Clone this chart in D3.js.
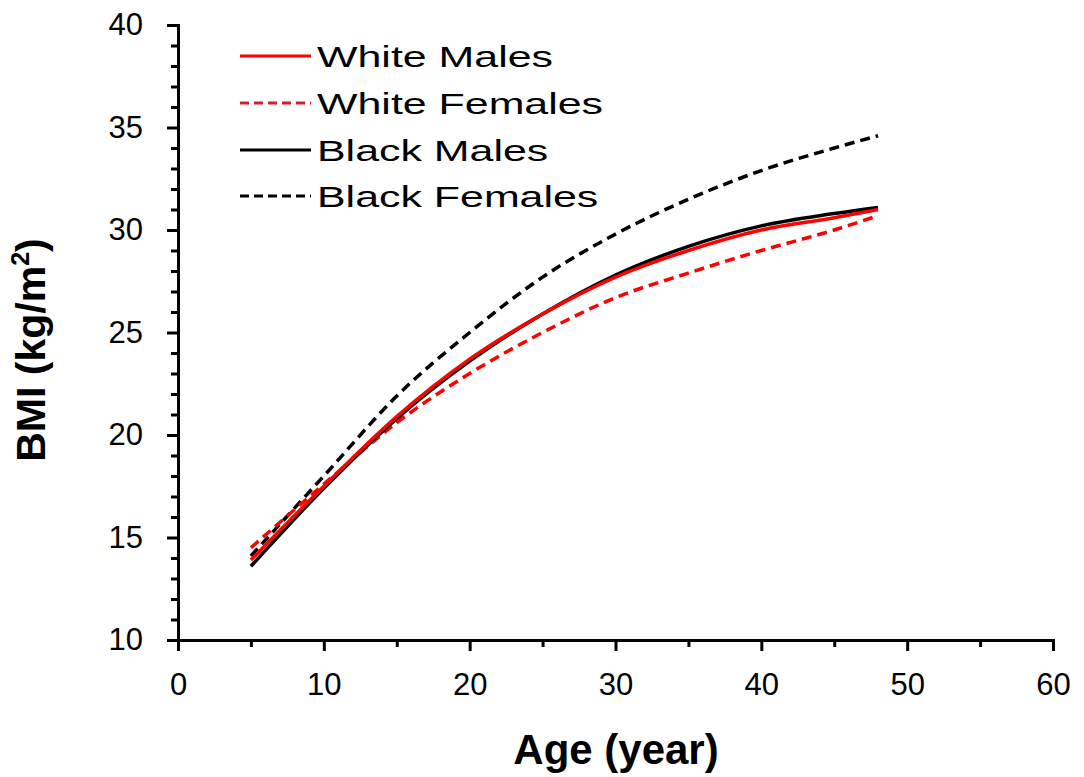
<!DOCTYPE html>
<html>
<head>
<meta charset="utf-8">
<script src="https://cdn.jsdelivr.net/npm/d3@7"></script>
<style>
  html, body { margin: 0; padding: 0; background: #fff; }
  svg { display: block; }
  text { font-family: "Liberation Sans", Arial, sans-serif; fill: #000; }
</style>
</head>
<body>
<svg id="chart" width="1084" height="777"></svg>
<script>
// ---- data ----
const ages = [5, 10, 15, 20, 25, 30, 35, 40, 45, 48];
const whiteMales   = [13.9, 17.5, 20.9, 23.7, 25.9, 27.7, 29.0, 30.0, 30.6, 31.0];
const whiteFemales = [14.5, 17.6, 20.6, 23.0, 25.0, 26.7, 27.9, 29.0, 30.0, 30.7];
const blackMales   = [13.6, 17.4, 20.8, 23.6, 25.9, 27.8, 29.2, 30.2, 30.8, 31.1];
const blackFemales = [14.1, 18.0, 21.9, 25.0, 27.7, 29.8, 31.5, 32.9, 34.0, 34.6];
const seriesNames  = ["White Males", "White Females", "Black Males", "Black Females"];
const xTicks = [0, 10, 20, 30, 40, 50, 60];
const xMinorTicks = [5, 15, 25, 35, 45, 55];
const yTicks = [10, 15, 20, 25, 30, 35, 40];
const yMinorTicks = d3.range(10, 41, 1).filter(v => v % 5 !== 0);
const xTitle = "Age (year)";

// ---- styling (not data) ----
const styles = {
  "White Males":   { color: "#ff0000", dash: null },
  "White Females": { color: "#ff0000", dash: "10,6" },
  "Black Males":   { color: "#000000", dash: null },
  "Black Females": { color: "#000000", dash: "10,6" }
};
const seriesData = {
  "White Males": whiteMales,
  "White Females": whiteFemales,
  "Black Males": blackMales,
  "Black Females": blackFemales
};

const svg = d3.select("#chart");
const x = d3.scaleLinear().domain([0, 60]).range([178, 1053]);
const y = d3.scaleLinear().domain([10, 40]).range([640, 25]);

// ---- axes ----
const axW = 3;
svg.append("g").attr("transform", "translate(0,640)")
  .call(d3.axisBottom(x).tickValues(xMinorTicks).tickSize(7).tickSizeOuter(0).tickFormat(""));
svg.append("g").attr("transform", "translate(0,640)")
  .call(d3.axisBottom(x).tickValues(xTicks).tickSize(11).tickSizeOuter(0).tickPadding(22));

svg.append("g").attr("transform", "translate(178,0)")
  .call(d3.axisLeft(y).tickValues(yMinorTicks).tickSize(7).tickSizeOuter(0).tickFormat(""));
svg.append("g").attr("transform", "translate(178,0)")
  .call(d3.axisLeft(y).tickValues(yTicks).tickSize(11).tickSizeOuter(0).tickPadding(24));

svg.selectAll(".domain").attr("stroke", "#000").attr("stroke-width", axW).attr("stroke-linecap", "square");
svg.selectAll(".tick line").attr("stroke", "#000").attr("stroke-width", axW);
svg.selectAll(".tick text").attr("font-size", 31).attr("font-family", "Liberation Sans, Arial, sans-serif").attr("fill", "#000");

// ---- lines ----
const line = d3.line()
  .x((d, i) => x(ages[i]))
  .y(d => y(d))
  .curve(d3.curveMonotoneX);

const drawOrder = ["Black Females", "White Females", "Black Males", "White Males"];
drawOrder.forEach(name => {
  svg.append("path")
    .datum(seriesData[name])
    .attr("d", line)
    .attr("fill", "none")
    .attr("stroke", styles[name].color)
    .attr("stroke-width", 3.5)
    .attr("stroke-dasharray", styles[name].dash)
    .attr("stroke-linejoin", "round");
});

// ---- legend ----
const legendRowsY = [56, 103, 150, 196];
const lg = svg.append("g");
seriesNames.forEach((name, i) => {
  const cy = legendRowsY[i];
  lg.append("line")
    .attr("x1", 240).attr("x2", 311)
    .attr("y1", cy).attr("y2", cy)
    .attr("stroke", name === "White Females" ? "#d0202a" : styles[name].color)
    .attr("stroke-width", 3)
    .attr("stroke-dasharray", styles[name].dash ? "9,5" : null);
  lg.append("text")
    .attr("transform", `translate(317,${cy + 11}) scale(1.48,1)`)
    .attr("font-size", 29)
    .text(name);
});

// ---- titles ----
svg.append("text")
  .attr("x", 616).attr("y", 764)
  .attr("text-anchor", "middle")
  .attr("font-size", 42)
  .attr("font-weight", "bold")
  .text(xTitle);

const yt = svg.append("text")
  .attr("transform", "translate(45,350) rotate(-90)")
  .attr("text-anchor", "middle")
  .attr("font-size", 41)
  .attr("font-weight", "bold");
yt.append("tspan").text("BMI (kg/m");
yt.append("tspan").attr("font-size", 25).attr("dy", -16).text("2");
yt.append("tspan").attr("dy", 16).text(")");
</script>
</body>
</html>
